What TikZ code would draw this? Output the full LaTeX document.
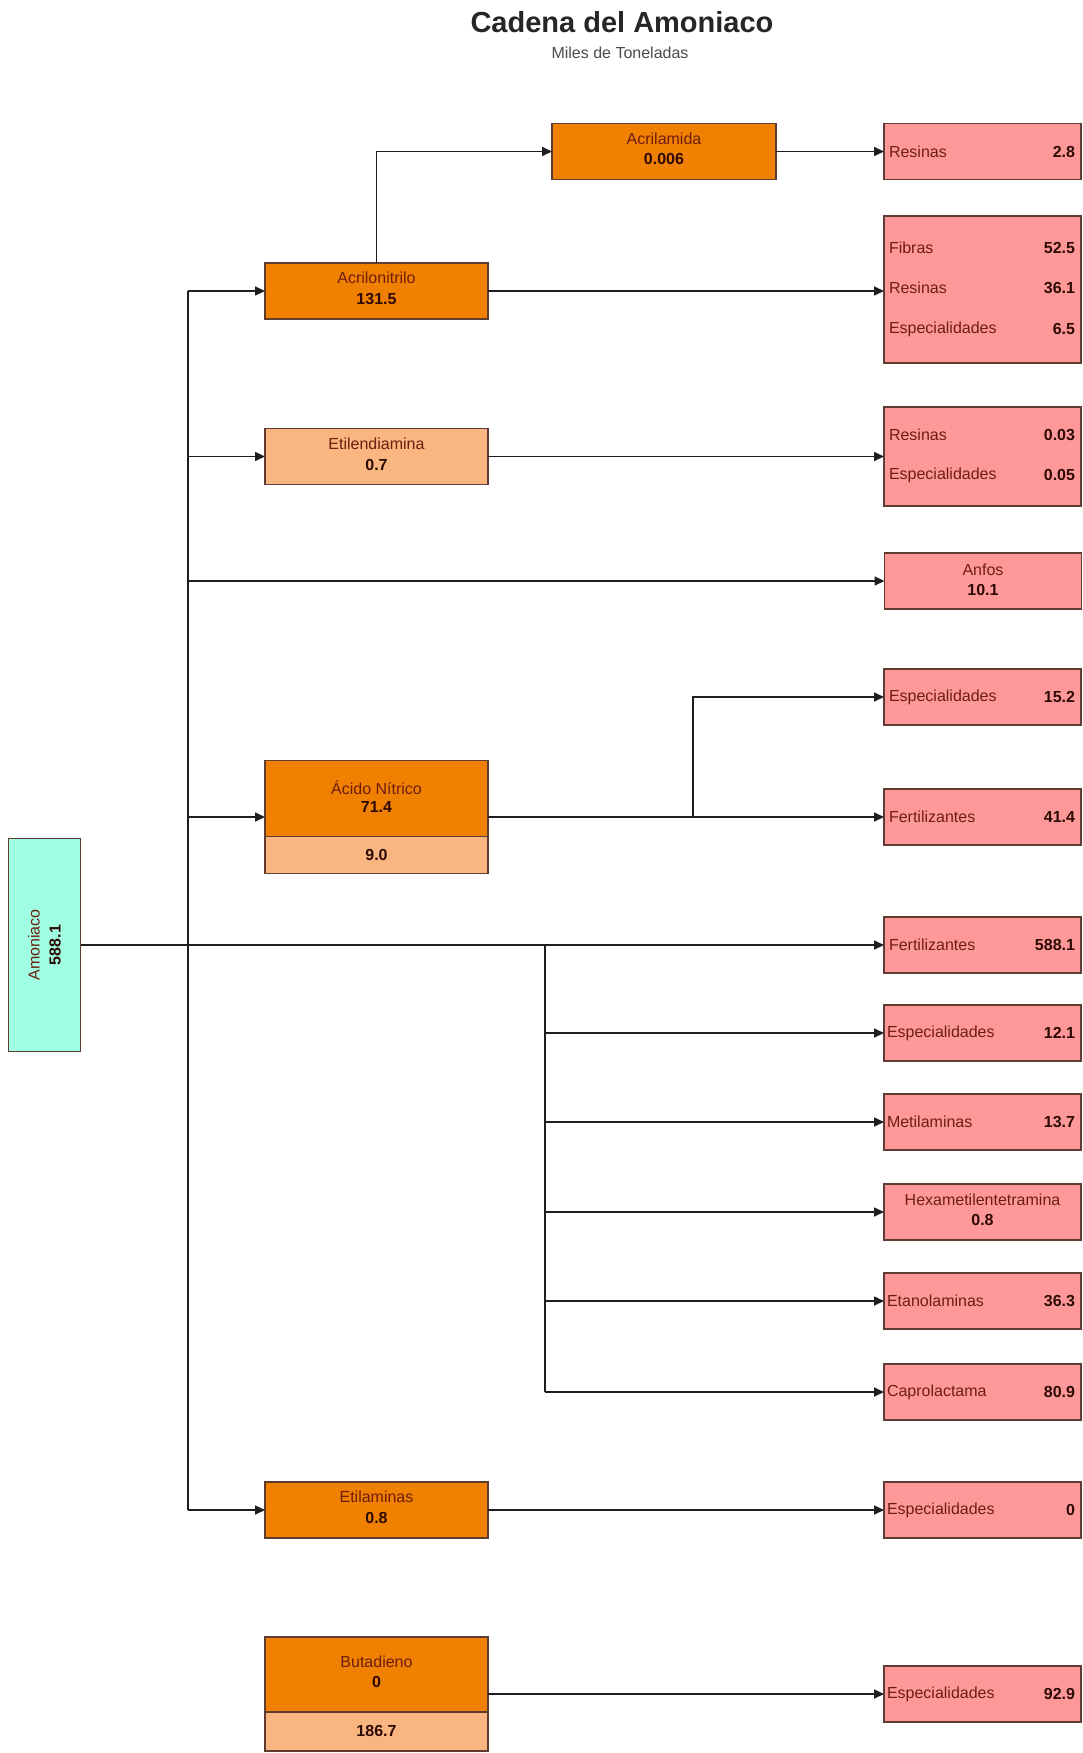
\documentclass[tikz,border=0pt]{standalone}
\usepackage{fontspec}
\setmainfont{Liberation Sans}
\usetikzlibrary{arrows.meta,calc}
\definecolor{prodOrange}{RGB}{240,128,0}
\definecolor{prodLight}{RGB}{249,182,128}
\definecolor{endPink}{RGB}{255,153,153}
\definecolor{baseAqua}{RGB}{160,255,226}
\definecolor{boxEdge}{RGB}{95,60,50}
\definecolor{nameInk}{RGB}{110,30,15}
\definecolor{numInk}{RGB}{45,10,5}
\definecolor{wireInk}{RGB}{30,30,30}
\begin{document}
\begin{tikzpicture}[x=1pt,y=-1pt,
  every node/.style={inner sep=0pt, outer sep=0pt},
  card/.style={rectangle, draw=boxEdge, line width=1.5pt},
  midbox/.style={card, fill=prodOrange, minimum width=223pt, minimum height=56pt},
  lowpart/.style={card, fill=prodLight, minimum width=223pt},
  endbox/.style={card, fill=endPink, minimum width=197pt, minimum height=56pt},
  lbl/.style={font=\fontsize{16}{18}\selectfont, text=nameInk},
  qty/.style={font=\fontsize{16}{18}\selectfont\bfseries, text=numInk},
  wire/.style={draw=wireInk, line width=1.6pt},
  feed/.style={wire, -{Triangle[length=10pt,width=9pt]}},
]
\useasboundingbox (0,0) rectangle (1083,1753);
\fill[white] (0,0) rectangle (1083,1753);

% heading
\node[font=\fontsize{29}{32}\selectfont\bfseries, text=black!85] (title) at (622,22) {Cadena del Amoniaco};
\node[font=\fontsize{16}{18}\selectfont, text=black!70] (subtitle) at (620,53) {Miles de Toneladas};

% source product
\node[card, fill=baseAqua, minimum width=72pt, minimum height=213pt] (amon) at (44.5,945) {};
\node[rotate=90, align=center, font=\fontsize{16}{21}\selectfont, text=nameInk] (amonTxt) at (44.5,945)
  {Amoniaco\\{\bfseries\color{numInk}588.1}};

% intermediate products
\node[midbox] (acrilo) at (376.5,291) {};
\node[lbl] (acriloN) at (376.5,278) {Acrilonitrilo};
\node[qty] (acriloQ) at (376.5,299) {131.5};

\node[midbox, minimum width=224pt] (acrila) at (664,151.5) {};
\node[lbl] (acrilaN) at (664,139) {Acrilamida};
\node[qty] (acrilaQ) at (664,159) {0.006};

\node[lowpart, minimum height=56pt] (etilen) at (376.5,456.5) {};
\node[lbl] (etilenN) at (376.5,444) {Etilendiamina};
\node[qty] (etilenQ) at (376.5,465) {0.7};

\node[midbox, minimum height=113pt] (acido) at (376.5,817) {};
\node[lowpart, minimum height=37pt, anchor=south] (acidoLow) at (acido.south) {};
\node[lbl] (acidoN) at (376.5,788) {Ácido Nítrico};
\node[qty] (acidoQ) at (376.5,807) {71.4};
\node[qty] (acidoQ2) at (376.5,855) {9.0};

\node[midbox] (etilam) at (376.5,1510) {};
\node[lbl] (etilamN) at (376.5,1497) {Etilaminas};
\node[qty] (etilamQ) at (376.5,1518) {0.8};

\node[midbox, minimum height=114pt] (butad) at (376.5,1694) {};
\node[lowpart, minimum height=39pt, anchor=south] (butadLow) at (butad.south) {};
\node[lbl] (butadN) at (376.5,1662) {Butadieno};
\node[qty] (butadQ) at (376.5,1682) {0};
\node[qty] (butadQ2) at (376.5,1731) {186.7};

% end uses
\node[endbox] (r28) at (982.5,151.5) {};
\node[lbl, anchor=west] (r28N) at (889,151.5) {Resinas};
\node[qty, anchor=east] (r28Q) at (1075,151.5) {2.8};

\node[endbox, minimum height=147pt] (fib) at (982.5,289.5) {};
\node[lbl, anchor=west] (fibN1) at (889,248) {Fibras};
\node[qty, anchor=east] (fibQ1) at (1075,248) {52.5};
\node[lbl, anchor=west] (fibN2) at (889,288) {Resinas};
\node[qty, anchor=east] (fibQ2) at (1075,288) {36.1};
\node[lbl, anchor=west] (fibN3) at (889,329) {Especialidades};
\node[qty, anchor=east] (fibQ3) at (1075,329) {6.5};

\node[endbox, minimum height=99pt] (res2) at (982.5,456.5) {};
\node[lbl, anchor=west] (res2N1) at (889,435) {Resinas};
\node[qty, anchor=east] (res2Q1) at (1075,435) {0.03};
\node[lbl, anchor=west] (res2N2) at (889,475) {Especialidades};
\node[qty, anchor=east] (res2Q2) at (1075,475) {0.05};

\node[endbox] (anfos) at (983,581) {};
\node[lbl] (anfosN) at (983,570) {Anfos};
\node[qty] (anfosQ) at (983,590) {10.1};

\node[endbox] (esp152) at (982.5,697) {};
\node[lbl, anchor=west] (esp152N) at (889,697) {Especialidades};
\node[qty, anchor=east] (esp152Q) at (1075,697) {15.2};

\node[endbox] (fert414) at (982.5,817) {};
\node[lbl, anchor=west] (fert414N) at (889,817) {Fertilizantes};
\node[qty, anchor=east] (fert414Q) at (1075,817) {41.4};

\node[endbox] (fert588) at (982.5,945) {};
\node[lbl, anchor=west] (fert588N) at (889,945) {Fertilizantes};
\node[qty, anchor=east] (fert588Q) at (1075,945) {588.1};

\node[endbox] (esp121) at (982.5,1033) {};
\node[lbl, anchor=west] (esp121N) at (887,1033) {Especialidades};
\node[qty, anchor=east] (esp121Q) at (1075,1033) {12.1};

\node[endbox] (metil) at (982.5,1122) {};
\node[lbl, anchor=west] (metilN) at (887,1122) {Metilaminas};
\node[qty, anchor=east] (metilQ) at (1075,1122) {13.7};

\node[endbox] (hexa) at (982.5,1212) {};
\node[lbl] (hexaN) at (982.5,1200) {Hexametilentetramina};
\node[qty] (hexaQ) at (982.5,1220) {0.8};

\node[endbox] (etanol) at (982.5,1301) {};
\node[lbl, anchor=west] (etanolN) at (887,1301) {Etanolaminas};
\node[qty, anchor=east] (etanolQ) at (1075,1301) {36.3};

\node[endbox] (capro) at (982.5,1392) {};
\node[lbl, anchor=west] (caproN) at (887,1392) {Caprolactama};
\node[qty, anchor=east] (caproQ) at (1075,1392) {80.9};

\node[endbox] (esp0) at (982.5,1510) {};
\node[lbl, anchor=west] (esp0N) at (887,1510) {Especialidades};
\node[qty, anchor=east] (esp0Q) at (1075,1510) {0};

\node[endbox] (esp929) at (982.5,1694) {};
\node[lbl, anchor=west] (esp929N) at (887,1694) {Especialidades};
\node[qty, anchor=east] (esp929Q) at (1075,1694) {92.9};

% distribution trunk from ammonia
\coordinate (trunkTop) at (188,291);
\coordinate (trunkBot) at (188,1510);
\coordinate (tEtil)  at (188,456.5);
\coordinate (tAnfos) at (188,581);
\coordinate (tAcido) at (188,817);
\draw[wire] (trunkTop) -- (trunkBot);
\draw[feed] (trunkTop) -- (acrilo);
\draw[feed] (tEtil) -- (etilen);
\draw[feed] (tAnfos) -- (anfos);
\draw[feed] (tAcido) -- (acido);
\draw[feed] (trunkBot) -- (etilam);
\draw[feed] (amon.east) -- (fert588);

% acrylonitrile chain
\draw[feed] (acrilo.north) |- (acrila.west);
\draw[feed] (acrila) -- (r28);
\draw[feed] (acrilo.east) -- (acrilo.east -| fib.west);
\draw[feed] (etilen) -- (res2);

% nitric acid
\coordinate (jAcido) at (693,817);
\draw[feed] (acido) -- (fert414);
\draw[feed] (jAcido) |- (esp152.west);

% direct ammonia uses
\coordinate (jMain) at (545,945);
\coordinate (jLow)  at (545,1392);
\draw[wire] (jMain) -- (jLow);
\draw[feed] (jMain |- esp121) -- (esp121);
\draw[feed] (jMain |- metil) -- (metil);
\draw[feed] (jMain |- hexa) -- (hexa);
\draw[feed] (jMain |- etanol) -- (etanol);
\draw[feed] (jLow) -- (capro);

% other chains
\draw[feed] (etilam) -- (esp0);
\draw[feed] (butad) -- (esp929);
\end{tikzpicture}
\end{document}
